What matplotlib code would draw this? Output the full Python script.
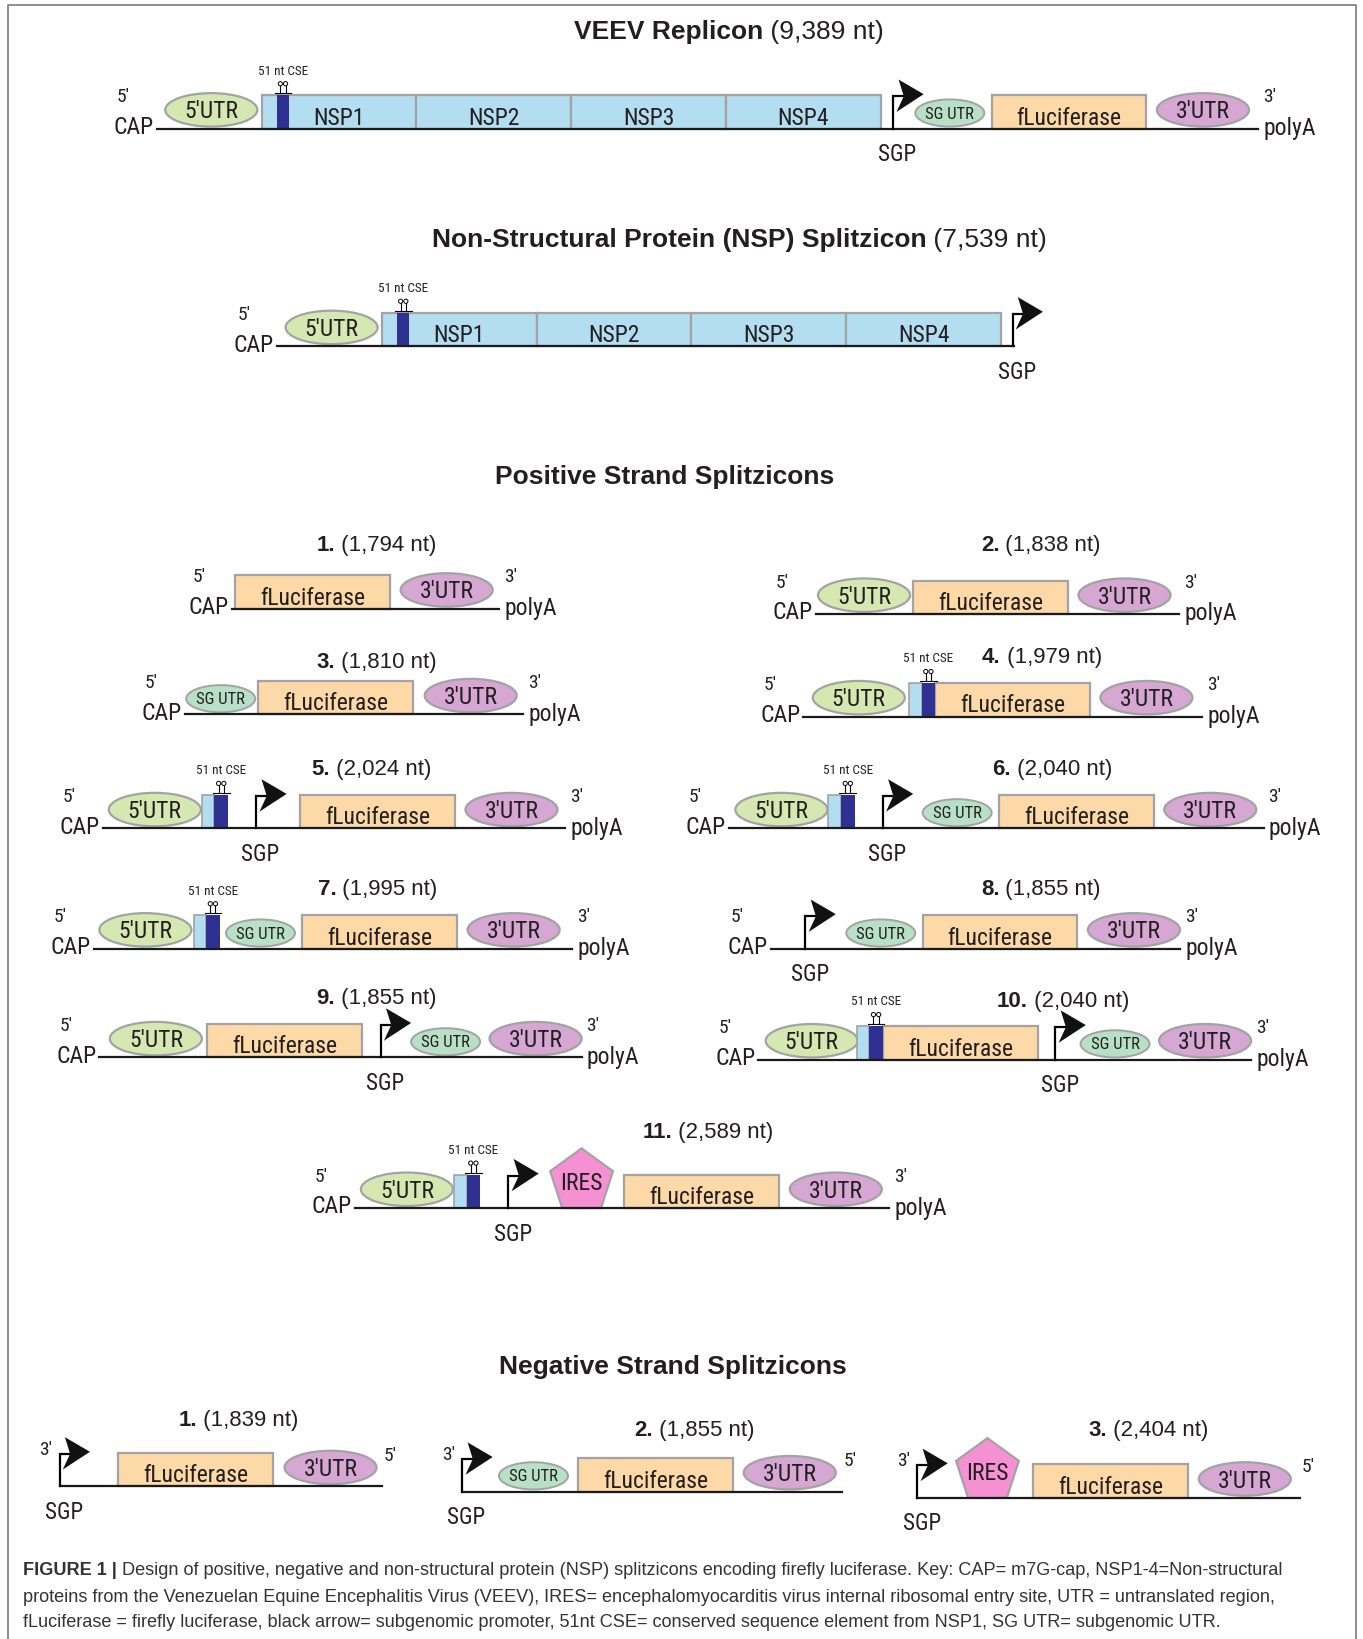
import matplotlib
matplotlib.use('Agg')
import matplotlib.pyplot as plt
import matplotlib.font_manager as fm
from matplotlib.patches import Ellipse, Rectangle, Polygon, Circle
import numpy as np

# ---------------- data ----------------
TOP_TITLES = ['VEEV Replicon', 'Non-Structural Protein (NSP) Splitzicon']
TOP_NT = ['(9,389 nt)', '(7,539 nt)']
TOP_PARTS = [
    ['U5', 'NSP1', 'NSP2', 'NSP3', 'NSP4', 'SGP', 'SG', 'LUC', 'U3'],
    ['U5', 'NSP1', 'NSP2', 'NSP3', 'NSP4', 'SGP'],
]
TOP_POLYA = [True, False]

SECTIONS = ['Positive Strand Splitzicons', 'Negative Strand Splitzicons']

POS_NUM = ['1.', '2.', '3.', '4.', '5.', '6.', '7.', '8.', '9.', '10.', '11.']
POS_NT = ['(1,794 nt)', '(1,838 nt)', '(1,810 nt)', '(1,979 nt)', '(2,024 nt)', '(2,040 nt)',
          '(1,995 nt)', '(1,855 nt)', '(1,855 nt)', '(2,040 nt)', '(2,589 nt)']
POS_PARTS = [
    ['LUC', 'U3'],
    ['U5', 'LUC', 'U3'],
    ['SG', 'LUC', 'U3'],
    ['U5', 'CSE', 'LUC', 'U3'],
    ['U5', 'CSE', 'SGP', 'LUC', 'U3'],
    ['U5', 'CSE', 'SGP', 'SG', 'LUC', 'U3'],
    ['U5', 'CSE', 'SG', 'LUC', 'U3'],
    ['SGP', 'SG', 'LUC', 'U3'],
    ['U5', 'LUC', 'SGP', 'SG', 'U3'],
    ['U5', 'CSE', 'LUC', 'SGP', 'SG', 'U3'],
    ['U5', 'CSE', 'SGP', 'IRES', 'LUC', 'U3'],
]

NEG_NUM = ['1.', '2.', '3.']
NEG_NT = ['(1,839 nt)', '(1,855 nt)', '(2,404 nt)']
NEG_PARTS = [
    ['SGP', 'LUC', 'U3'],
    ['SGP', 'SG', 'LUC', 'U3'],
    ['SGP', 'IRES', 'LUC', 'U3'],
]

PART_TEXT = {'U5': '5\u2032UTR', 'U3': '3\u2032UTR', 'SG': 'SG UTR', 'LUC': 'fLuciferase',
             'IRES': 'IRES', 'NSP1': 'NSP1', 'NSP2': 'NSP2', 'NSP3': 'NSP3', 'NSP4': 'NSP4'}

CAPTION_BOLD = 'FIGURE 1 |'
CAPTION = [
    ' Design of positive, negative and non-structural protein (NSP) splitzicons encoding firefly luciferase. Key: CAP= m7G-cap, NSP1-4=Non-structural',
    'proteins from the Venezuelan Equine Encephalitis Virus (VEEV), IRES= encephalomyocarditis virus internal ribosomal entry site, UTR = untranslated region,',
    'fLuciferase = firefly luciferase, black arrow= subgenomic promoter, 51nt CSE= conserved sequence element from NSP1, SG UTR= subgenomic UTR.',
]

# ---------------- layout (drawing units) ----------------
W, H = 1303, 1568
# (line start x, line y, spacing between parts, title x, title y)
TOP_LAYOUT = [
    (150, 124, [8, 4, 0, 0, 0, 12, 21, 7, 10, 9], 697, 31),
    (265, 332, [8, 4, 0, 0, 0, 11, 1], 707, 229),
]
POS_LAYOUT = [
    (222, 583, [3, 10, 6], 360, 522),
    (780, 588, [2, 3, 10, 8], 995, 522),
    (177, 684, [1, 3, 11, 6], 360, 633),
    (768, 686, [9, 4, 0, 10, 9], 996, 629),
    (98, 793, [6, 1, 27, 42, 10, 7], 355, 736),
    (697, 793, [6, 1, 27, 38, 7, 10, 7], 1006, 736),
    (90, 908, [5, 2, 6, 7, 10, 12], 361, 850),
    (737, 908, [33, 39, 7, 10, 0], 995, 850),
    (95, 1012, [10, 5, 18, 29, 9, 0], 360, 955),
    (725, 1014, [7, -1, 0, 17, 24, 9, 0], 1016, 958),
    (339, 1156, [6, 1, 27, 40, 11, 10, 7], 677, 1083),
]
NEG_LAYOUT = [
    (57, 1422, [0, 56, 11, 5], 228, 1358),
    (442, 1427, [0, 35, 10, 10, 6], 664, 1368),
    (877, 1433, [0, 37, 14, 10, 9], 1098, 1368),
]
SECTION_POS = [(635, 456), (643, 1307)]

WIDTH = {'U5': 88, 'U3': 88, 'SG': 66, 'CSE': 25, 'LUC': 148, 'IRES': 60, 'SGP': 0,
         'NSP1': 148, 'NSP2': 148, 'NSP3': 148, 'NSP4': 148}
COLOR = {'U5': '#d6e8b2', 'U3': '#d5a7d2', 'SG': '#b8e0c7', 'LUC': '#fdd9a8',
         'NSP': '#b3ddf0', 'CSE': '#2e3192', 'IRES': '#f591d2'}
EDGE = '#a3a3a3'
TXT = '#231f20'
SANS = ['Liberation Sans', 'DejaVu Sans']


def pick_narrow():
    fonts = fm.fontManager.ttflist
    names = {f.name for f in fonts}
    for n, k in [('Liberation Sans Narrow', 1.12), ('Roboto Condensed', 1.0),
                 ('Open Sans Condensed', 1.0), ('Noto Sans Condensed', 1.0)]:
        if n in names:
            return [n, 'DejaVu Sans'], 'normal', k
    for n in ['DejaVu Sans', 'Noto Sans', 'Open Sans', 'Roboto']:
        for f in fonts:
            if f.name == n and f.stretch in ('condensed', 'semi-condensed', 'extra-condensed'):
                return [n, 'DejaVu Sans'], f.stretch, 1.0
    return ['Liberation Sans', 'DejaVu Sans'], 'normal', 1.02


NARROW, STRETCH, KSIZE = pick_narrow()

fig = plt.figure(figsize=(13.63, 16.40), dpi=100)
ax = fig.add_axes([0, 0, 1, 1])
ax.set_xlim(0, W)
ax.set_ylim(H, 0)
ax.axis('off')
UNIT = 1363 / W  # pixels per drawing unit


def label(x, y, s, size=17, ha='center'):
    ax.text(x, y, s, fontsize=size * KSIZE, ha=ha, va='center', family=NARROW,
            fontstretch=STRETCH, color=TXT, zorder=6)


def two_part(x, y, bold, normal, size, ha='center', color=TXT):
    r = fig.canvas.get_renderer()
    t1 = ax.text(0, y, bold, fontsize=size, fontweight='bold', ha='left', va='center',
                 family=SANS, color=color)
    t2 = ax.text(0, y, normal, fontsize=size, ha='left', va='center', family=SANS, color=color)
    w1 = t1.get_window_extent(r).width / UNIT
    w2 = t2.get_window_extent(r).width / UNIT
    x0 = x - (w1 + w2) / 2 if ha == 'center' else x
    t1.set_x(x0)
    t2.set_x(x0 + w1)


def hairpin(cx, ytop):
    ax.plot([cx - 8, cx + 8], [ytop - 2, ytop - 2], color='k', lw=0.8, zorder=5)
    for dx in (-2.5, 2.5):
        ax.plot([cx + dx, cx + dx], [ytop - 2, ytop - 9], color='k', lw=0.8, zorder=5)
        ax.add_patch(Circle((cx + dx, ytop - 11), 2, fill=False, ec='k', lw=0.7, zorder=5))
    label(cx, ytop - 24, '51 nt CSE', size=9.5)


def sgp_arrow(x, y):
    ax.plot([x, x, x + 9], [y, y - 31, y - 31], color='k', lw=1.6, zorder=5,
            solid_joinstyle='miter')
    pts = np.array([[29, -33], [5, -47], [10, -31], [3, -16]]) + [x, y]
    ax.add_patch(Polygon(pts, closed=True, fc='#111111', ec='none', zorder=5))
    label(x + 4, y + 24, 'SGP', size=16.5)


def draw_part(kind, x, y):
    w = WIDTH[kind]
    if kind in ('U5', 'U3'):
        ax.add_patch(Ellipse((x + w / 2, y - 18), w, 32, fc=COLOR[kind], ec=EDGE, lw=1.6, zorder=2))
        label(x + w / 2, y - 17, PART_TEXT[kind])
    elif kind == 'SG':
        ax.add_patch(Ellipse((x + w / 2, y - 15), w, 26, fc=COLOR['SG'], ec=EDGE, lw=1.4, zorder=2))
        label(x + w / 2, y - 15, PART_TEXT[kind], size=12)
    elif kind == 'LUC' or kind.startswith('NSP'):
        fc = COLOR['LUC'] if kind == 'LUC' else COLOR['NSP']
        ax.add_patch(Rectangle((x, y - 32), w, 32, fc=fc, ec=EDGE, lw=1.6, zorder=2))
        label(x + w / 2, y - 11, PART_TEXT[kind])
        if kind == 'NSP1':
            ax.add_patch(Rectangle((x + 15, y - 32), 11, 32, fc=COLOR['CSE'], ec='none', zorder=3))
            hairpin(x + 20.5, y - 32)
    elif kind == 'CSE':
        ax.add_patch(Rectangle((x, y - 32), 12, 32, fc=COLOR['NSP'], ec=EDGE, lw=1.2, zorder=2))
        ax.add_patch(Rectangle((x + 12, y - 32), 13, 32, fc=COLOR['CSE'], ec='none', zorder=3))
        hairpin(x + 18.5, y - 32)
    elif kind == 'SGP':
        sgp_arrow(x, y)
    elif kind == 'IRES':
        R = w / (2 * np.sin(np.radians(72)))
        cy = y - R * np.cos(np.radians(36))
        ang = np.radians(-90 + 72 * np.arange(5))
        pts = np.column_stack([x + w / 2 + R * np.cos(ang), cy + R * np.sin(ang)])
        ax.add_patch(Polygon(pts, closed=True, fc=COLOR['IRES'], ec=EDGE, lw=1.6, zorder=2))
        label(x + w / 2, y - 24, 'IRES')


def construct(parts, lay, strand='+', polya=True):
    x0, y, gaps, tx, ty = lay
    x = x0 + gaps[0]
    for i, p in enumerate(parts):
        draw_part(p, x, y)
        x += WIDTH[p] + gaps[i + 1]
    end = x
    ax.plot([x0, end], [y, y], color='#1a1a1a', lw=1.6, zorder=4)
    if strand == '+':
        label(x0 - 32, y - 31, '5\u2032', size=14)
        label(x0 - 3, y - 2, 'CAP', ha='right')
        if polya:
            label(end + 11, y - 31, '3\u2032', size=14)
            label(end + 5, y - 1, 'polyA', ha='left')
    else:
        label(x0 - 13, y - 36, '3\u2032', size=14)
        label(end + 8, y - 30, '5\u2032', size=14)


# frame
ax.plot([8, 8, 1296, 1296], [H + 5, 6, 6, H + 5], color='#7a7a7a', lw=1.2, zorder=1)

for t, nt, parts, lay, pa in zip(TOP_TITLES, TOP_NT, TOP_PARTS, TOP_LAYOUT, TOP_POLYA):
    construct(parts, lay, polya=pa)
    two_part(lay[3], lay[4], t, ' ' + nt, 19)

for s, (sx, sy) in zip(SECTIONS, SECTION_POS):
    ax.text(sx, sy, s, fontsize=19, fontweight='bold', ha='center', va='center',
            family=SANS, color=TXT)

for n, nt, parts, lay in zip(POS_NUM, POS_NT, POS_PARTS, POS_LAYOUT):
    construct(parts, lay)
    two_part(lay[3], lay[4], n, ' ' + nt, 16)

for n, nt, parts, lay in zip(NEG_NUM, NEG_NT, NEG_PARTS, NEG_LAYOUT):
    construct(parts, lay, strand='-')
    two_part(lay[3], lay[4], n, ' ' + nt, 16)

# caption
cap_y = [1502, 1527, 1551]
two_part(22, cap_y[0], CAPTION_BOLD, CAPTION[0], 13.1, ha='left', color='#333333')
for line, cy in zip(CAPTION[1:], cap_y[1:]):
    ax.text(22, cy, line, fontsize=13.1, ha='left', va='center', family=SANS, color='#333333')

fig.savefig('out.png', dpi=100)
